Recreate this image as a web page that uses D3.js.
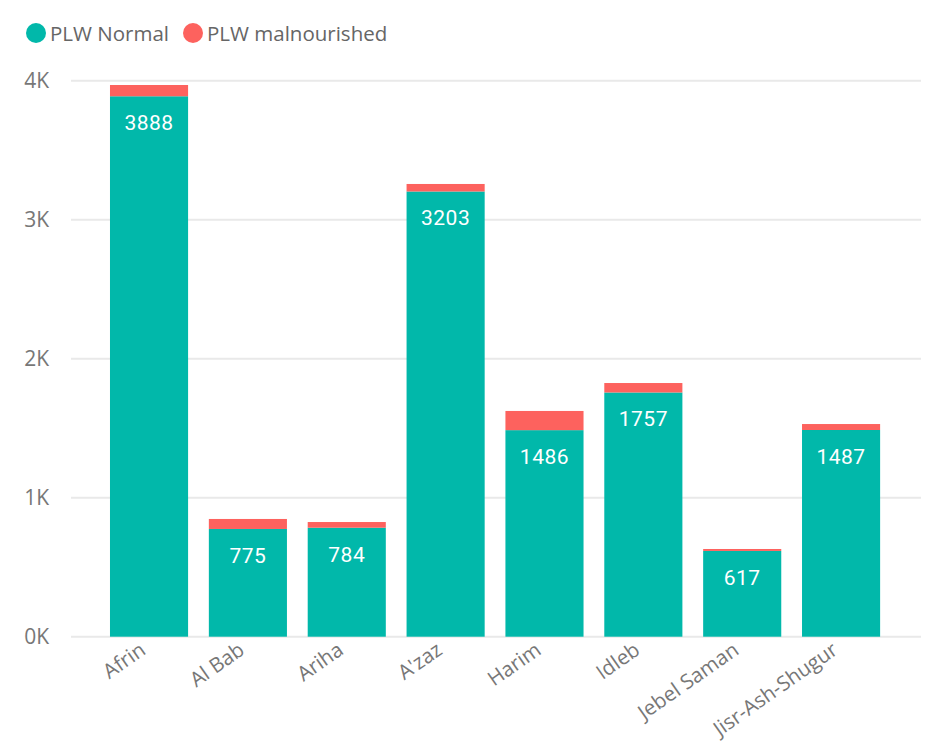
<!DOCTYPE html>
<html>
<head>
<meta charset="utf-8">
<script src="https://cdn.jsdelivr.net/npm/d3@7"></script>
<style>
  html, body { margin: 0; padding: 0; background: #fff; }
  svg { display: block; }
</style>
</head>
<body>
<svg id="chart" width="928" height="745"></svg>
<script>
// Districts and PLW screening counts
const districts = ["Afrin", "Al Bab", "Ariha", "A'zaz", "Harim", "Idleb", "Jebel Saman", "Jisr-Ash-Shugur"];
const plwNormal = [3888, 775, 784, 3203, 1486, 1757, 617, 1487];
const plwMalnourished = [81, 72, 41, 54, 138, 68, 14, 43];
const seriesNames = ["PLW Normal", "PLW malnourished"];
const seriesColors = ["#01B8AA", "#FD625E"];
const yTicks = [0, 1000, 2000, 3000, 4000];

const svg = d3.select("#chart");
const uiFont = "'Segoe UI', 'Open Sans', sans-serif";

const x = d3.scaleBand()
  .domain(districts)
  .range([99.6, 890.5])
  .paddingInner(0.21)
  .paddingOuter(0.105);

const y = d3.scaleLinear()
  .domain([0, 4000])
  .range([636.7, 80.7]);

// Gridlines
svg.append("g")
  .selectAll("line")
  .data(yTicks)
  .join("line")
  .attr("x1", 71)
  .attr("x2", 921)
  .attr("y1", d => y(d))
  .attr("y2", d => y(d))
  .attr("stroke", "#e9e9e9")
  .attr("stroke-width", 2);

// Y axis labels
const yAxis = d3.axisLeft(y)
  .tickValues(yTicks)
  .tickFormat(d => (d / 1000) + "K")
  .tickSize(0)
  .tickPadding(0);
const yg = svg.append("g").attr("transform", "translate(49,0)").call(yAxis);
yg.select(".domain").remove();
yg.selectAll("text")
  .attr("font-family", uiFont)
  .attr("font-size", 21)
  .attr("fill", "#777");

// Stacked bars
const rows = districts.map((d, i) => ({ district: d, normal: plwNormal[i], mal: plwMalnourished[i] }));
const stack = d3.stack().keys(["normal", "mal"]);
const layers = stack(rows);

svg.append("g")
  .selectAll("g")
  .data(layers)
  .join("g")
  .attr("fill", (d, i) => seriesColors[i])
  .selectAll("rect")
  .data(d => d)
  .join("rect")
  .attr("x", d => x(d.data.district))
  .attr("width", x.bandwidth())
  .attr("y", d => y(d[1]))
  .attr("height", d => y(d[0]) - y(d[1]));

// Value labels inside the normal segment
svg.append("g")
  .selectAll("text")
  .data(rows)
  .join("text")
  .attr("x", d => x(d.district) + x.bandwidth() / 2)
  .attr("y", d => y(d.normal) + 34)
  .attr("text-anchor", "middle")
  .attr("font-family", "Roboto, sans-serif")
  .attr("font-size", 21)
  .attr("letter-spacing", 0.5)
  .attr("fill", "#fff")
  .text(d => d.normal);

// X axis labels, rotated
svg.append("g")
  .selectAll("text")
  .data(districts)
  .join("text")
  .attr("transform", d => `translate(${x(d) + x.bandwidth() / 2 - 2},${653}) rotate(-35)`)
  .attr("text-anchor", "end")
  .attr("font-family", uiFont)
  .attr("font-size", 20.5)
  .attr("fill", "#777")
  .text(d => d);

// Legend
const legend = svg.append("g");
const legendX = [36, 193];
seriesNames.forEach((name, i) => {
  legend.append("circle")
    .attr("cx", legendX[i])
    .attr("cy", 33)
    .attr("r", 10)
    .attr("fill", seriesColors[i]);
  legend.append("text")
    .attr("x", legendX[i] + 14)
    .attr("y", 41)
    .attr("font-family", uiFont)
    .attr("font-size", 20.5)
    .attr("fill", "#666")
    .text(name);
});
</script>
</body>
</html>
